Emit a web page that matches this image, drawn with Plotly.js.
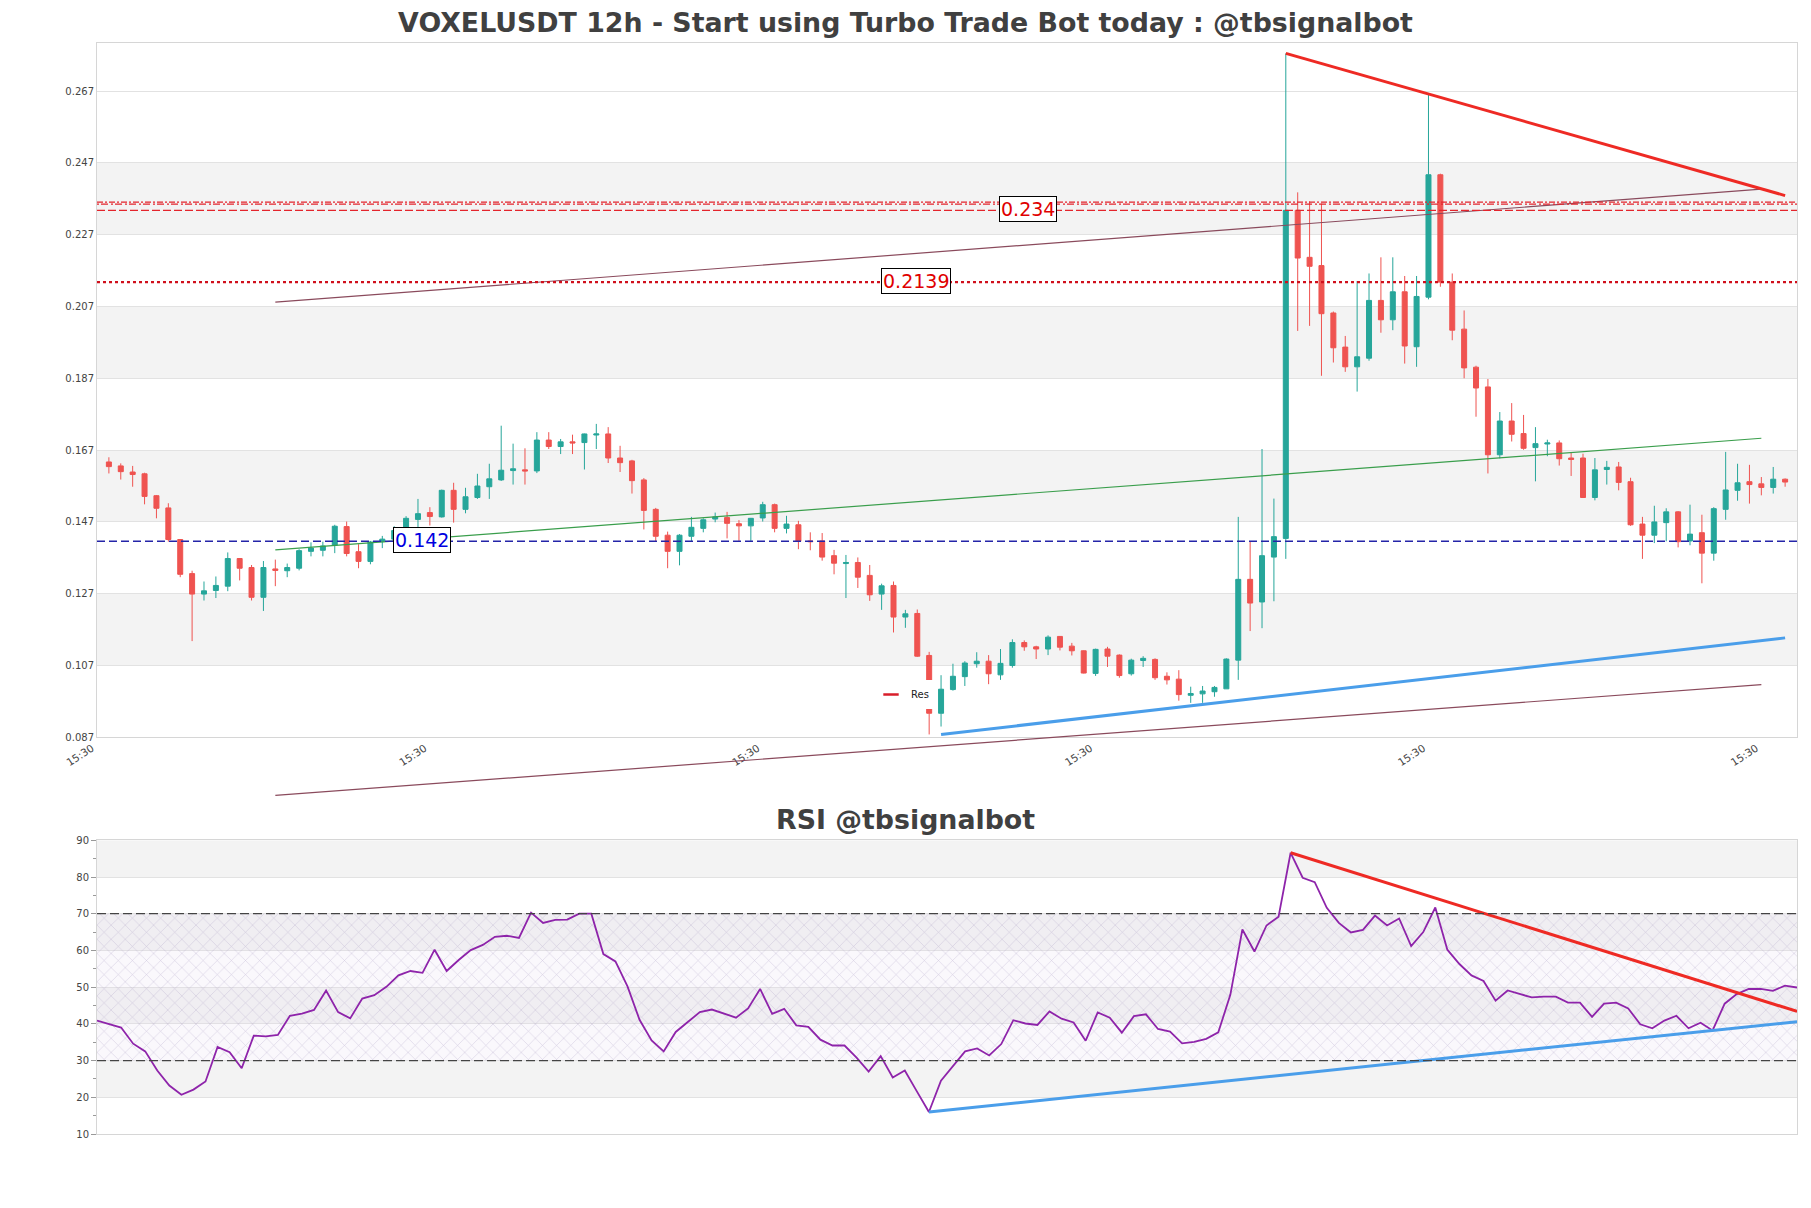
<!DOCTYPE html>
<html><head><meta charset="utf-8">
<script src="https://cdn.plot.ly/plotly-3.0.1.min.js"></script>
<style>html,body{margin:0;padding:0;background:#fff}#chart{width:1811px;height:1208px}</style>
</head><body><div id="chart"></div>
<script>
// ---- candle data (12h) ----
const open=[.1637,.1626,.1609,.1604,.1543,.1509,.1421,.1326,.1269,.1279,
.1291,.1368,.1343,.1260,.1339,.1334,.1341,.1388,.1391,.1405,
.1457,.1387,.1360,.1415,.1422,.1447,.1477,.1496,.1484,.1558,
.1505,.1538,.1568,.1587,.1613,.1615,.1612,.1698,.1680,.1693,
.1691,.1712,.1715,.1648,.1640,.1587,.1505,.1433,.1388,.1430,
.1452,.1478,.1482,.1465,.1459,.1481,.1518,.1452,.1462,.1417,
.1417,.1376,.1354,.1357,.1321,.1269,.1293,.1205,.1215,.1098,
.0937,.1003,.1039,.1075,.1082,.1044,.1070,.1134,.1122,.1116,
.1151,.1124,.1111,.1048,.1116,.1099,.1047,.1084,.1087,.1040,
.1032,.0987,.0991,.0997,.1005,.1085,.1310,.1247,.1372,.1424,
.2338,.2207,.2184,.2052,.1957,.1902,.1926,.2087,.2033,.2111,
.1958,.2096,.2437,.2138,.2007,.1901,.1846,.1657,.1751,.1716,
.1677,.1687,.1690,.1648,.1648,.1538,.1616,.1623,.1582,.1464,
.1433,.1468,.1498,.1417,.1440,.1383,.1505,.1558,.1582,.1576,
.1566,.1589];
const high=[.1650,.1633,.1626,.1607,.1545,.1522,.1422,.1334,.1304,.1318,
.1385,.1369,.1350,.1361,.1365,.1354,.1394,.1413,.1415,.1462,
.1471,.1408,.1417,.1431,.1458,.1486,.1534,.1511,.1560,.1579,
.1565,.1604,.1632,.1738,.1688,.1675,.1720,.1720,.1701,.1713,
.1716,.1743,.1734,.1682,.1643,.1592,.1509,.1443,.1436,.1484,
.1480,.1496,.1498,.1475,.1481,.1526,.1521,.1487,.1473,.1441,
.1439,.1392,.1378,.1371,.1350,.1298,.1304,.1225,.1226,.1108,
.1043,.1075,.1082,.1107,.1099,.1116,.1143,.1140,.1125,.1154,
.1152,.1133,.1112,.1117,.1122,.1101,.1089,.1096,.1090,.1051,
.1057,.1011,.1013,.1013,.1090,.1484,.1414,.1673,.1535,.2775,
.2388,.2363,.2357,.2056,.1988,.2141,.2162,.2207,.2207,.2155,
.2155,.2661,.2440,.2162,.2059,.1905,.1868,.1776,.1801,.1768,
.1734,.1699,.1697,.1662,.1660,.1648,.1640,.1637,.1593,.1484,
.1515,.1508,.1500,.1518,.1490,.1511,.1665,.1632,.1629,.1595,
.1623,.1591];
const low=[.1605,.1588,.1568,.1519,.1480,.1415,.1316,.1138,.1251,.1258,
.1277,.1307,.1251,.1222,.1291,.1316,.1335,.1374,.1374,.1383,
.1374,.1341,.1352,.1397,.1415,.1440,.1451,.1460,.1482,.1468,
.1494,.1534,.1534,.1584,.1574,.1574,.1606,.1673,.1659,.1659,
.1616,.1673,.1634,.1609,.1549,.1449,.1415,.1341,.1349,.1415,
.1441,.1469,.1424,.1417,.1415,.1471,.1441,.1438,.1394,.1391,
.1362,.1324,.1258,.1286,.1250,.1225,.1162,.1175,.1094,.0878,
.0900,.1000,.1013,.1064,.1018,.1030,.1064,.1111,.1088,.1099,
.1112,.1098,.1048,.1041,.1066,.1036,.1042,.1066,.1030,.1017,
.0972,.0966,.0966,.0983,.1005,.1030,.1166,.1174,.1249,.1367,
.2002,.2016,.1877,.1914,.1888,.1833,.1919,.1997,.2004,.1911,
.1902,.2090,.2125,.1976,.1870,.1763,.1605,.1647,.1694,.1671,
.1583,.1653,.1627,.1598,.1537,.1530,.1574,.1558,.1459,.1367,
.1411,.1416,.1399,.1405,.1299,.1362,.1476,.1529,.1521,.1544,
.1549,.1568];
const close=[.1624,.1610,.1602,.1541,.1508,.1421,.1324,.1269,.1278,.1293,
.1368,.1341,.1260,.1343,.1335,.1343,.1390,.1397,.1403,.1458,
.1382,.1360,.1414,.1422,.1446,.1480,.1493,.1485,.1558,.1505,
.1540,.1570,.1590,.1614,.1618,.1612,.1698,.1680,.1693,.1690,
.1715,.1715,.1648,.1635,.1585,.1502,.1430,.1388,.1433,.1455,
.1476,.1484,.1466,.1459,.1480,.1518,.1452,.1464,.1416,.1415,
.1372,.1355,.1357,.1316,.1267,.1292,.1205,.1214,.1096,.0937,
.1004,.1040,.1077,.1082,.1047,.1076,.1134,.1122,.1116,.1149,
.1121,.1111,.1049,.1115,.1096,.1042,.1085,.1090,.1036,.1030,
.0989,.0992,.0999,.1009,.1088,.1310,.1244,.1376,.1429,.2338,
.2205,.2182,.2050,.1955,.1902,.1930,.2087,.2033,.2111,.1960,
.2098,.2437,.2138,.2004,.1899,.1843,.1657,.1751,.1714,.1675,
.1688,.1690,.1646,.1644,.1538,.1615,.1622,.1580,.1462,.1433,
.1470,.1498,.1415,.1436,.1383,.1507,.1559,.1579,.1574,.1566,
.1589,.1581];
// ---- RSI ----
const rsi=[40.9,39.9,39.0,34.6,32.5,27.3,23.2,20.7,22.1,24.3,
33.7,32.3,27.9,36.8,36.6,37.0,42.2,42.8,43.8,49.1,
43.2,41.5,46.9,47.8,50.1,53.2,54.4,53.9,60.2,54.4,
57.4,60.1,61.5,63.7,64.0,63.4,70.3,67.5,68.3,68.4,
70.0,70.0,59.0,57.0,50.2,41.1,35.5,32.5,37.8,40.5,
43.2,43.9,42.8,41.7,44.2,49.5,42.7,44.1,39.6,39.2,
35.7,34.1,34.1,30.8,27.0,31.2,25.4,27.3,21.6,16.0,
24.5,28.4,32.5,33.3,31.4,34.5,41.0,40.1,39.7,43.4,
41.4,40.4,35.4,43.1,41.7,37.6,42.1,42.6,38.6,37.9,
34.7,35.1,35.9,37.7,47.9,65.7,59.7,66.8,69.2,86.6,
79.8,78.6,71.6,67.5,64.9,65.6,69.5,66.8,68.7,61.2,
65.0,71.7,60.2,56.3,53.2,51.7,46.3,49.1,48.1,47.2,
47.4,47.4,45.8,45.8,41.9,45.5,45.8,44.2,39.9,38.8,
40.9,42.2,38.8,40.3,38.2,45.5,48.1,49.5,49.5,49.0,
50.4,49.9];
// ---- ticks ----
const xTickVals=[-1,27,55,83,111,139];
const xTickText=['15:30','15:30','15:30','15:30','15:30','15:30'];
const priceTicks=[0.087,0.107,0.127,0.147,0.167,0.187,0.207,0.227,0.247,0.267];
const rsiTicks=[10,20,30,40,50,60,70,80,90];
// ---- trend lines ----
const resTrendX=[99,141], resTrendY=[0.2775,0.2379];
const supTrendX=[70,141], supTrendY=[0.0878,0.1147];
const chanX=[14,139];
const chanUpperY=[0.2082,0.2397];
const chanMidY=[0.1392,0.1703];
const chanLowerY=[0.0708,0.1017];
const rsiResX=[99,141], rsiResY=[86.6,43.4];
const rsiSupX=[69,141], rsiSupY=[16.0,40.6];
// ---- levels ----
const resLevels=[0.2361,0.2355,0.2338];
const resLabel={x:77.3,y:0.2342,text:'0.234'};
const midLevel=0.2138, midLabel={x:67.9,y:0.2140,text:'0.2139'};
const supLevel=0.1416, supLabel={x:26.3,y:0.1419,text:'0.142'};
const rsiZone=[30,70];

const idx=open.map((_,i)=>i);
const rsiX=rsi.map((_,i)=>i);

const W=1811,H=1208,ML=97,MR=14,MT=43,MB=74;
const mainDom=[0.3636,1], rsiDom=[0,0.2692], extDom=[0.30,1];
const mainRange=[0.087,0.2804];
const span=(mainRange[1]-mainRange[0])/(mainDom[1]-mainDom[0]);
const extRange=[mainRange[0]-(mainDom[0]-extDom[0])*span, mainRange[1]];

const RED='#ee2a24', BLUE='#4a9eea', MAROON='#8a4a5c', GREEN='#3a9e4c';
const traces=[
 {type:'candlestick',x:idx,open:open,high:high,low:low,close:close,xaxis:'x',yaxis:'y',
  increasing:{line:{color:'#26a69a',width:1},fillcolor:'#26a69a'},
  decreasing:{line:{color:'#ef5350',width:1},fillcolor:'#ef5350'},
  whiskerwidth:0,showlegend:false,hoverinfo:'skip'},
 {type:'scatter',mode:'lines',x:chanX,y:chanUpperY,xaxis:'x',yaxis:'y',line:{color:MAROON,width:1.2},showlegend:false},
 {type:'scatter',mode:'lines',x:chanX,y:chanMidY,xaxis:'x',yaxis:'y',line:{color:GREEN,width:1.2},showlegend:false},
 {type:'scatter',mode:'lines',x:chanX,y:chanLowerY,xaxis:'x',yaxis:'y3',line:{color:MAROON,width:1.2},showlegend:false},
 {type:'scatter',mode:'lines',x:resTrendX,y:resTrendY,xaxis:'x',yaxis:'y',line:{color:RED,width:3},showlegend:false},
 {type:'scatter',mode:'lines',x:supTrendX,y:supTrendY,xaxis:'x',yaxis:'y',line:{color:BLUE,width:3},showlegend:false},
 {type:'scatter',mode:'markers',name:'Res',x:[null],y:[null],xaxis:'x',yaxis:'y',
  marker:{symbol:'line-ew-open',size:11,color:'#d81e2a',line:{color:'#d81e2a',width:2.5}},showlegend:true},
 {type:'scatter',mode:'lines',x:[rsiX[0],rsiX[rsiX.length-1],rsiX[rsiX.length-1],rsiX[0],rsiX[0]],
  y:[rsiZone[0],rsiZone[0],rsiZone[1],rsiZone[1],rsiZone[0]],xaxis:'x2',yaxis:'y2',
  fill:'toself',line:{width:0},fillcolor:'rgba(215,200,230,0.10)',
  fillpattern:{shape:'x',size:10,solidity:0.1,fgcolor:'rgba(165,150,190,0.50)',bgcolor:'rgba(225,210,240,0.16)'},
  showlegend:false,hoverinfo:'skip'},
 {type:'scatter',mode:'lines',x:rsiX,y:rsi,xaxis:'x2',yaxis:'y2',line:{color:'#8e24aa',width:1.8},showlegend:false},
 {type:'scatter',mode:'lines',x:rsiResX,y:rsiResY,xaxis:'x2',yaxis:'y2',line:{color:RED,width:3},showlegend:false},
 {type:'scatter',mode:'lines',x:rsiSupX,y:rsiSupY,xaxis:'x2',yaxis:'y2',line:{color:BLUE,width:3},showlegend:false}
];

const shapes=[];
for(let k=1;k<priceTicks.length-1;k+=2){
 shapes.push({type:'rect',xref:'x domain',yref:'y',x0:0,x1:1,y0:priceTicks[k],y1:priceTicks[k+1],fillcolor:'#f3f3f3',line:{width:0},layer:'below'});
}
for(let k=1;k<rsiTicks.length-1;k+=2){
 shapes.push({type:'rect',xref:'x2 domain',yref:'y2',x0:0,x1:1,y0:rsiTicks[k],y1:rsiTicks[k+1],fillcolor:'#f3f3f3',line:{width:0},layer:'below'});
}
const resDash=['6px,2px,2px,2px','2px,2px,7px,3px','8px,3px'];
resLevels.forEach((v,i)=>shapes.push({type:'line',xref:'x domain',yref:'y',x0:0,x1:1,y0:v,y1:v,line:{color:'#e4242c',width:1.3,dash:resDash[i]}}));
shapes.push({type:'line',xref:'x domain',yref:'y',x0:0,x1:1,y0:midLevel,y1:midLevel,line:{color:'#d0101c',width:2.2,dash:'dot'}});
shapes.push({type:'line',xref:'x domain',yref:'y',x0:0,x1:1,y0:supLevel,y1:supLevel,line:{color:'#2424a8',width:1.5,dash:'8px,4px'}});
rsiZone.forEach(v=>shapes.push({type:'line',xref:'x2 domain',yref:'y2',x0:0,x1:1,y0:v,y1:v,line:{color:'#444',width:1.2,dash:'9px,4px'}}));

function lvlAnn(l,color){return {xref:'x',yref:'y',x:l.x,y:l.y,text:l.text,showarrow:false,
 font:{family:'DejaVu Sans',size:19,color:color},bgcolor:'#fff',bordercolor:'#000',borderwidth:1,borderpad:1};}
const plotW=W-ML-MR, plotH=H-MT-MB;
const annotations=[
 lvlAnn(resLabel,'#e00000'),lvlAnn(midLabel,'#e00000'),lvlAnn(supLabel,'#0000e0'),
 {xref:'paper',yref:'paper',x:(W/2-ML)/plotW,y:(H-MB-819)/plotH,xanchor:'center',yanchor:'middle',
  text:'RSI @tbsignalbot',showarrow:false,font:{family:'DejaVu Sans',size:26.8,color:'#404040',weight:'bold'}}
];

const axBase={showline:true,mirror:true,linecolor:'#d6d6d6',linewidth:1,zeroline:false,fixedrange:true};
const layout={
 width:W,height:H,margin:{l:ML,r:MR,t:MT,b:MB},
 paper_bgcolor:'#fff',plot_bgcolor:'rgba(0,0,0,0)',
 font:{family:'DejaVu Sans',color:'#444',size:10},
 title:{text:'VOXELUSDT 12h - Start using Turbo Trade Bot today : @tbsignalbot',x:0.5,xanchor:'center',
  y:1-23/H,yanchor:'middle',font:{family:'DejaVu Sans',size:26.8,color:'#404040',weight:'bold'}},
 xaxis:Object.assign({},axBase,{domain:[0,1],anchor:'y',range:[-1,142],tickmode:'array',tickvals:xTickVals,ticktext:xTickText,
  tickangle:-33,tickfont:{size:10.5,color:'#444'},showgrid:false,ticks:'',ticklabelshift:-5,rangeslider:{visible:false}}),
 yaxis:Object.assign({},axBase,{domain:mainDom,anchor:'x',range:mainRange,tickmode:'array',tickvals:priceTicks,
  ticktext:priceTicks.map(v=>v.toFixed(3)),showgrid:true,gridcolor:'#e2e2e2',ticks:'',tickfont:{size:10,color:'#444'}}),
 yaxis3:{domain:extDom,anchor:'x',range:extRange,visible:false,showgrid:false,zeroline:false,fixedrange:true},
 xaxis2:Object.assign({},axBase,{domain:[0,1],anchor:'y2',range:[0,rsiX.length-1],showticklabels:false,showgrid:false,ticks:''}),
 yaxis2:Object.assign({},axBase,{domain:rsiDom,anchor:'x2',range:[10,90],tickmode:'array',tickvals:rsiTicks,
  showgrid:true,gridcolor:'#e2e2e2',ticks:'outside',ticklen:5,tickcolor:'#999',tickfont:{size:10,color:'#444'},
  minor:{ticks:'outside',ticklen:3,tickcolor:'#999',dtick:5,tick0:5,showgrid:false}}),
 showlegend:true,
 legend:{x:(871-ML)/plotW,y:(H-MB-680)/plotH,xanchor:'left',yanchor:'top',bgcolor:'#fff',borderwidth:0,
  font:{size:10,color:'#222'}},
 shapes:shapes,annotations:annotations,boxgap:0.4
};
Plotly.newPlot('chart',traces,layout,{displayModeBar:false,staticPlot:true});
</script></body></html>
